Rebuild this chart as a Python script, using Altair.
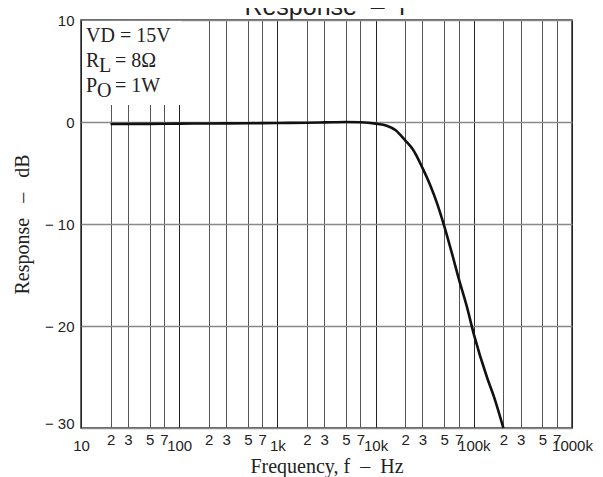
import json
import altair as alt
import pandas as pd

# Curve data (frequency in Hz, response in dB)
freq = [20, 50, 100, 200, 500, 1000, 2000, 3000, 5000, 7000, 10000, 13000,
        16000, 20000, 24000, 30000, 36000, 42000, 50000, 60000, 70000, 85000,
        100000, 137000, 160000, 200000]
resp = [-0.2, -0.18, -0.16, -0.14, -0.12, -0.1, -0.07, -0.04, 0.0, -0.03, -0.16,
        -0.36, -0.8, -1.8, -2.7, -4.5, -6.2, -7.9, -10.2, -12.9, -15.3, -18.1,
        -20.8, -25.1, -26.9, -30.0]

# Axis ticks
x_ticks = [10, 20, 30, 50, 70,
           100, 200, 300, 500, 700,
           1000, 2000, 3000, 5000, 7000,
           10000, 20000, 30000, 50000, 70000,
           100000, 200000, 300000, 500000, 700000,
           1000000]
x_tick_labels = ["10", "2", "3", "5", "7",
                 "100", "2", "3", "5", "7",
                 "1k", "2", "3", "5", "7",
                 "10k", "2", "3", "5", "7",
                 "100k", "2", "3", "5", "7",
                 "1000k"]
decades = [10, 100, 1000, 10000, 100000, 1000000]
y_ticks = [-30, -20, -10, 0, 10]

df = pd.DataFrame({"f": freq, "db": resp})
one = pd.DataFrame({"k": [0]})

SANS = "Liberation Sans"
SERIF = "Liberation Serif"

W, H = 491, 408

label_expr = f"{json.dumps(x_tick_labels)}[indexof({json.dumps(x_ticks)}, datum.value)]"
decade_test = f"indexof({json.dumps(decades)}, datum.value) >= 0"

xscale = alt.Scale(type="log", domain=[10, 1000000], nice=False)
yscale = alt.Scale(domain=[-30, 10], nice=False)

xaxis = alt.Axis(
    values=x_ticks,
    labelExpr=label_expr,
    labelFont=SANS,
    labelFontSize=15,
    labelColor="#222",
    labelFlush=False,
    labelOverlap=False,
    labelBaseline="top",
    labelPadding={"condition": {"test": decade_test, "value": 10}, "value": 4},
    ticks=False,
    domain=False,
    grid=True,
    gridColor={"condition": {"test": decade_test, "value": "#222"}, "value": "#555"},
    gridWidth=1,
    title="Frequency, f\u00a0\u00a0–\u00a0\u00a0Hz",
    titleFont=SERIF,
    titleFontSize=20,
    titleFontWeight="normal",
    titleColor="#222",
    titleBaseline="alphabetic",
    titleY=44,
)

yaxis = alt.Axis(
    values=y_ticks,
    labelExpr="datum.value < 0 ? '\u2212 ' + abs(datum.value) : '' + datum.value",
    labelFont=SANS,
    labelFontSize=15,
    labelColor="#222",
    labelPadding=7,
    labelBaseline={"condition": {"test": "datum.value == -30", "value": "alphabetic"}, "value": "middle"},
    ticks=False,
    domain=False,
    grid=True,
    gridColor="#888",
    gridWidth=1.5,
    title="Response\u00a0\u00a0\u00a0–\u00a0\u00a0\u00a0dB",
    titleFont=SERIF,
    titleFontSize=20,
    titleFontWeight="normal",
    titleColor="#222",
    titleBaseline="alphabetic",
    titleX=-53,
    titleY=204,
    titleAngle=270,
)

line = alt.Chart(df).mark_line(color="#111", strokeWidth=2.6, interpolate="monotone").encode(
    x=alt.X("f:Q", scale=xscale, axis=xaxis),
    y=alt.Y("db:Q", scale=yscale, axis=yaxis),
)

box = alt.Chart(one).mark_rect(color="white").encode(
    x=alt.value(1), x2=alt.value(100), y=alt.value(1), y2=alt.value(85)
)

def txt(s, x, y, size=20, font=SERIF, align="left"):
    return alt.Chart(one).mark_text(
        font=font, fontSize=size, align=align, baseline="alphabetic", color="#222"
    ).encode(x=alt.value(x), y=alt.value(y), text=alt.value(s))

notes = [
    txt("VD = 15V", 5, 22),
    txt("R", 5, 47), txt("L", 18, 52), txt("= 8Ω", 34, 47),
    txt("P", 5, 72), txt("O", 16, 77), txt("= 1W", 34, 72),
    txt("Response\u00a0\u00a0–\u00a0\u00a0f", 244, -5, size=25, font=SANS, align="center"),
]

chart = alt.layer(box, line, *notes).properties(
    width=W,
    height=H,
    autosize=alt.AutoSizeParams(type="none"),
    padding={"left": 73, "top": 12, "right": 23, "bottom": 49},
).configure_view(stroke="#333", strokeWidth=1.5)

chart.save("out.html", embed_options={"renderer": "svg", "actions": False})
